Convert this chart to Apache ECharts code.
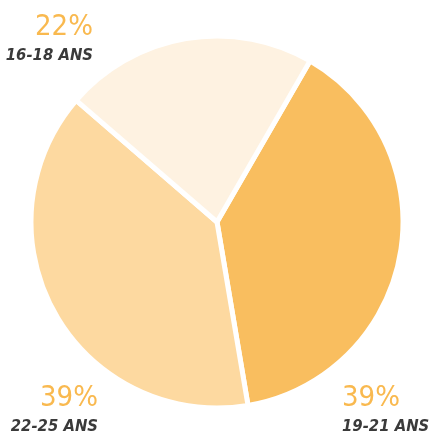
<!DOCTYPE html>
<html>
<head>
<meta charset="utf-8">
<script src="https://cdn.jsdelivr.net/npm/echarts@6/dist/echarts.min.js"></script>
<style>
  html, body { margin: 0; padding: 0; background: #fff; }
  #chart { width: 430px; height: 437px; }
</style>
</head>
<body>
<div id="chart"></div>
<script>
// tranches d'âge, dans l'ordre du tracé (sens horaire)
const categories = ["19-21 ANS", "22-25 ANS", "16-18 ANS"];
const shares = [39, 39, 22];
const sliceColors = ["#f9be5f", "#fdd9a0", "#fef2e1"];

// où poser chaque étiquette
const labelSpots = [
  { x: 342, y: 379, align: "left" },
  { x: 98, y: 379, align: "right" },
  { x: 93, y: 8, align: "right" },
];

const chart = echarts.init(document.getElementById("chart"));

chart.setOption({
  animation: false,
  series: [
    {
      type: "pie",
      center: [217, 222],
      radius: 186,
      startAngle: 60,
      clockwise: true,
      avoidLabelOverlap: false,
      itemStyle: {
        borderColor: "#ffffff",
        borderWidth: 5,
      },
      label: {
        show: true,
        position: "outside",
        formatter: (p) => "{p|" + p.value + "%}\n{n|" + p.name + "}",
        fontFamily: "DejaVu Sans Condensed",
        rich: {
          p: {
            fontFamily: "DejaVu Sans Condensed",
            fontSize: 29,
            lineHeight: 38,
            color: "#f9b94f",
          },
          n: {
            fontFamily: "DejaVu Sans Condensed",
            fontSize: 16.5,
            fontWeight: "bold",
            fontStyle: "italic",
            lineHeight: 20,
            color: "#3a3a3a",
          },
        },
      },
      labelLine: { show: false },
      labelLayout: (params) => {
        const s = labelSpots[params.dataIndex];
        return { x: s.x, y: s.y, align: s.align, verticalAlign: "top" };
      },
      data: categories.map((name, i) => ({
        name: name,
        value: shares[i],
        itemStyle: { color: sliceColors[i] },
      })),
    },
  ],
});
</script>
</body>
</html>
